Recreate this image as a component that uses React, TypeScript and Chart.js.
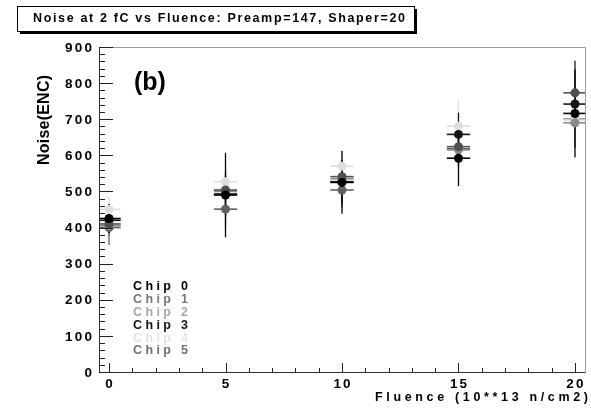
import React, { useEffect, useRef } from "react";
import { Chart, registerables } from "chart.js";

Chart.register(...registerables);

// ---------- data ----------
const FLUENCE = [0, 5, 10, 15, 20];
const CHIP_LABELS = ["Chip 0", "Chip 1", "Chip 2", "Chip 3", "Chip 4", "Chip 5"];
const CHIP0 = [425, 490, 525, 592, 716];
const CHIP1 = [410, 504, 541, 624, 773];
const CHIP2 = [405, 500, 535, 615, 690];
const CHIP3 = [420, 493, 527, 658, 742];
const CHIP4 = [450, 527, 570, 681, 698];
const CHIP5 = [400, 451, 504, 618, 700];
const ERR0 = [40, 117, 87, 77, 122];
const ERR1 = [30, 40, 40, 45, 60];
const ERR2 = [30, 40, 40, 45, 60];
const ERR3 = [35, 60, 60, 60, 120];
const ERR4 = [35, 45, 45, 72, 60];
const ERR5 = [48, 50, 50, 50, 60];
const X_ERR = 0.5;
const Y_TICKS = [0, 100, 200, 300, 400, 500, 600, 700, 800, 900];
const X_TICKS = [0, 5, 10, 15, 20];
const TITLE = "Noise at 2 fC vs Fluence: Preamp=147, Shaper=20";
const X_TITLE = "Fluence (10**13 n/cm2)";
const Y_TITLE = "Noise(ENC)";
const PANEL = "(b)";

const SERIES = [CHIP0, CHIP1, CHIP2, CHIP3, CHIP4, CHIP5];
const ERRORS = [ERR0, ERR1, ERR2, ERR3, ERR4, ERR5];
const POINT_COLORS = ["#000000", "#4f4f4f", "#8a8a8a", "#151515", "#dedede", "#606060"];
const TEXT_COLORS = ["#000000", "#777777", "#a8a8a8", "#111111", "#e4e4e4", "#707070"];

const FONT = "'Liberation Sans', Arial, Helvetica, sans-serif";

function drawSpaced(
  ctx: CanvasRenderingContext2D,
  text: string,
  x: number,
  y: number,
  spacing: number,
  align: "left" | "right" | "center"
) {
  const widths = Array.from(text).map((c) => ctx.measureText(c).width);
  const total = widths.reduce((s, w) => s + w, 0) + spacing * (text.length - 1);
  let cx = align === "left" ? x : align === "right" ? x - total : x - total / 2;
  ctx.textAlign = "left";
  Array.from(text).forEach((c, i) => {
    ctx.fillText(c, cx, y);
    cx += widths[i] + spacing;
  });
}

function spacingFor(ctx: CanvasRenderingContext2D, text: string, target: number) {
  const w = Array.from(text).reduce((s, c) => s + ctx.measureText(c).width, 0);
  return text.length > 1 ? (target - w) / (text.length - 1) : 0;
}

const decor = {
  id: "decor",
  beforeDraw(chart: any) {
    const { ctx, width, height } = chart;
    ctx.save();
    ctx.fillStyle = "#ffffff";
    ctx.fillRect(0, 0, width, height);
    ctx.restore();
  },
  beforeDatasetsDraw(chart: any) {
    const { ctx, chartArea: a, scales } = chart;
    const x = scales.x;
    const y = scales.y;
    ctx.save();
    ctx.beginPath();
    ctx.rect(a.left, a.top, a.right - a.left, a.bottom - a.top);
    ctx.clip();
    for (let i = SERIES.length - 1; i >= 0; i--) {
      const vals = SERIES[i];
      const errs = ERRORS[i];
      ctx.strokeStyle = POINT_COLORS[i];
      FLUENCE.forEach((f, j) => {
        const px = x.getPixelForValue(f);
        const py = y.getPixelForValue(vals[j]);
        ctx.lineWidth = 1.3;
        ctx.beginPath();
        ctx.moveTo(px, y.getPixelForValue(vals[j] - errs[j]));
        ctx.lineTo(px, y.getPixelForValue(vals[j] + errs[j]));
        ctx.stroke();
        ctx.lineWidth = 1.6;
        ctx.beginPath();
        ctx.moveTo(x.getPixelForValue(f - X_ERR), py);
        ctx.lineTo(x.getPixelForValue(f + X_ERR), py);
        ctx.stroke();
      });
    }
    ctx.restore();
  },
  afterDraw(chart: any) {
    const { ctx, chartArea: a, scales } = chart;
    const x = scales.x;
    const y = scales.y;
    ctx.save();

    // frame
    ctx.lineWidth = 1;
    ctx.strokeStyle = "#9a9a9a";
    ctx.beginPath();
    ctx.moveTo(a.left, a.top + 0.5);
    ctx.lineTo(a.right + 0.5, a.top + 0.5);
    ctx.lineTo(a.right + 0.5, a.bottom);
    ctx.stroke();
    ctx.strokeStyle = "#333333";
    ctx.beginPath();
    ctx.moveTo(a.left + 0.5, a.top);
    ctx.lineTo(a.left + 0.5, a.bottom + 0.5);
    ctx.lineTo(a.right + 0.5, a.bottom + 0.5);
    ctx.stroke();

    // y ticks
    ctx.strokeStyle = "#222222";
    for (let v = y.min; v <= y.max; v += 20) {
      const py = Math.round(y.getPixelForValue(v)) + 0.5;
      const major = v % 100 === 0;
      ctx.beginPath();
      ctx.moveTo(a.left, py);
      ctx.lineTo(a.left + (major ? 14 : 6), py);
      ctx.stroke();
    }
    // x ticks
    for (let v = 0; v <= 20; v += 1) {
      const px = Math.round(x.getPixelForValue(v)) + 0.5;
      const major = v % 5 === 0;
      ctx.beginPath();
      ctx.moveTo(px, a.bottom);
      ctx.lineTo(px, a.bottom - (major ? 9 : 4));
      ctx.stroke();
    }

    // tick labels
    ctx.fillStyle = "#000000";
    ctx.font = `bold 13.5px ${FONT}`;
    ctx.textBaseline = "middle";
    Y_TICKS.forEach((v) => {
      drawSpaced(ctx, String(v), 92, y.getPixelForValue(v) + 1, 2.2, "right");
    });
    X_TICKS.forEach((v) => {
      drawSpaced(ctx, String(v), x.getPixelForValue(v), 384, 2.2, "center");
    });

    // x title
    ctx.font = `bold 12.5px ${FONT}`;
    drawSpaced(ctx, X_TITLE, 588, 398, spacingFor(ctx, X_TITLE, 213), "right");

    // y title
    ctx.save();
    ctx.translate(45, 120);
    ctx.rotate(-Math.PI / 2);
    ctx.font = `bold 16px ${FONT}`;
    drawSpaced(ctx, Y_TITLE, 0, 0, spacingFor(ctx, Y_TITLE, 90), "center");
    ctx.restore();

    // panel label
    ctx.font = `bold 25px ${FONT}`;
    drawSpaced(ctx, PANEL, 134, 83, 0, "left");

    // legend
    ctx.font = `bold 12.5px ${FONT}`;
    CHIP_LABELS.forEach((lab, i) => {
      ctx.fillStyle = TEXT_COLORS[i];
      drawSpaced(ctx, lab, 133, 287 + i * 12.8, spacingFor(ctx, lab, 55), "left");
    });

    // title box
    ctx.fillStyle = "#000000";
    ctx.fillRect(20, 31, 397, 3);
    ctx.fillRect(414, 9, 3, 25);
    ctx.fillStyle = "#ffffff";
    ctx.fillRect(17.5, 6.5, 397, 25);
    ctx.strokeStyle = "#000000";
    ctx.lineWidth = 1;
    ctx.strokeRect(17.5, 6.5, 397, 25);
    ctx.fillStyle = "#000000";
    ctx.font = `bold 12.5px ${FONT}`;
    drawSpaced(ctx, TITLE, 33, 19, spacingFor(ctx, TITLE, 372), "left");

    ctx.restore();
  },
};

export default function App() {
  const ref = useRef<HTMLCanvasElement | null>(null);
  useEffect(() => {
    if (!ref.current) return;
    const chart = new Chart(ref.current, {
      type: "scatter",
      data: {
        datasets: SERIES.map((vals, i) => ({
          label: CHIP_LABELS[i],
          data: FLUENCE.map((f, j) => ({ x: f, y: vals[j] })),
          backgroundColor: POINT_COLORS[i],
          borderColor: POINT_COLORS[i],
          borderWidth: 0,
          pointRadius: 4.5,
          pointHoverRadius: 4.5,
          showLine: false,
        })),
      },
      options: {
        responsive: false,
        animation: false,
        devicePixelRatio: 1,
        layout: { padding: { left: 99, right: 6, top: 47, bottom: 38 } },
        scales: {
          x: { type: "linear", min: -0.43, max: 20.43, display: false },
          y: { type: "linear", min: 0, max: 900, display: false },
        },
        plugins: {
          legend: { display: false },
          tooltip: { enabled: false },
        },
      },
      plugins: [decor],
    });
    return () => chart.destroy();
  }, []);
  return (
    <div style={{ position: "fixed", left: 0, top: 0, width: 591, height: 410, background: "#fff" }}>
      <canvas ref={ref} width={591} height={410} style={{ display: "block", width: 591, height: 410 }} />
    </div>
  );
}
